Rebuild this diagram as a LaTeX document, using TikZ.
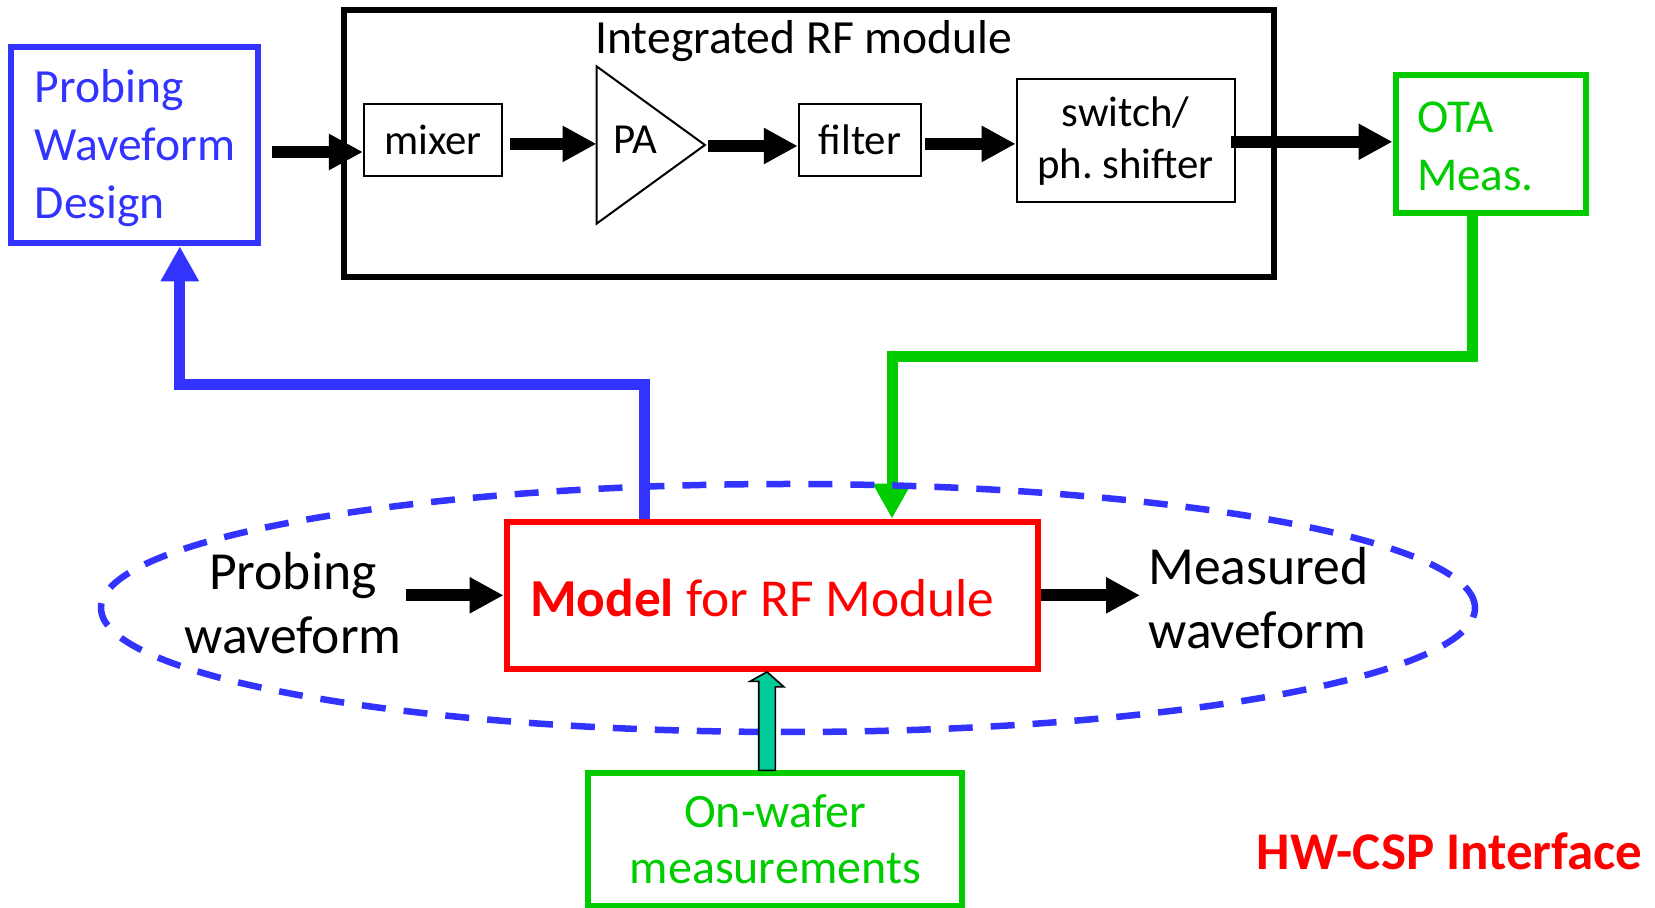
\documentclass[tikz,border=0pt]{standalone}
\usepackage{fontspec}
\setmainfont{Carlito}
\usepackage{xcolor}
\usetikzlibrary{arrows.meta,calc}
\definecolor{fbblue}{RGB}{51,51,255}
\definecolor{fbgreen}{RGB}{0,204,0}
\definecolor{mdred}{RGB}{255,0,0}
\definecolor{wafteal}{RGB}{0,204,153}
\frenchspacing

\begin{document}
\begin{tikzpicture}[x=0.5pt,y=-0.5pt,line join=miter,
    every node/.style={execute at begin node={\spaceskip=0pt\xspaceskip=0pt\relax}},
    blk node/.style={draw,line width=1pt,inner sep=0pt,font=\fontsize{21.4}{26}\selectfont},
    big node/.style={draw,line width=3pt,inner sep=0pt},
    sig/.style={line width=6pt,-{Triangle[length=17pt,width=17pt]}},
    fb/.style={line width=5.5pt,-{Triangle[length=17.5pt,width=18pt]}}]
    \useasboundingbox (0,0) rectangle (1655,908);

    % upper row
    \node[big node,draw=fbblue,text=fbblue,minimum width=123.2pt,minimum height=98.3pt,inner xsep=11.8pt,text width=99.6pt,text height=19.5pt,align=left,font=\fontsize{23.8}{29}\selectfont] (design) at (134.4,145) {Probing\\Waveform\\Design};
    \node[big node,minimum width=465pt,minimum height=133.35pt] (rfmod) at (808.7,143.35) {};
    \node[anchor=base,inner sep=0pt,font=\fontsize{23.8}{28}\selectfont] (rftitle) at (804,53.3) {Integrated RF module};
    \node[blk node,minimum width=69.1pt,minimum height=35.85pt] (mixer) at (433,139.9) {mixer};
    \node[inner sep=0pt,inner xsep=8.45pt,minimum width=53.8pt,minimum height=78.3pt,text width=36.9pt,text height=13pt,text depth=4.7pt,align=left,font=\fontsize{21.4}{26}\selectfont] (pa) at (650.7,145) {PA};
    \draw[line width=1pt] (pa.north west) -- (pa.east) -- (pa.south west) -- cycle;
    \node[blk node,minimum width=61.15pt,minimum height=35.85pt] (filter) at (859.9,139.9) {filter};
    \node[blk node,minimum width=108.95pt,minimum height=61.5pt,align=center] (switch) at (1125.6,140.8) {switch/\\ph. shifter};
    \node[big node,draw=fbgreen,text=fbgreen,minimum width=95.25pt,minimum height=69.15pt,inner xsep=10.75pt,text width=73.75pt,text height=17.5pt,align=left,font=\fontsize{23.6}{28.8}\selectfont] (ota) at (1490.75,144.15) {OTA\\Meas.};

    \draw[sig] ($(design.east)+(11,7)$) coordinate (a1) -- (a1 -| mixer.west);
    \draw[sig] ($(mixer.east)+(7,4)$) coordinate (a2) -- (a2 -| pa.west);
    \draw[sig] ($(pa.east)+(3,1)$) coordinate (a3) -- (a3 -| filter.west);
    \draw[sig] ($(filter.east)+(3,4)$) coordinate (a4) -- (a4 -| switch.west);
    \draw[sig] ($(switch.east)+(-5,1)$) coordinate (a5) -- (a5 -| ota.west);

    % lower row
    \node[big node,draw=mdred,text=mdred,minimum width=265.7pt,minimum height=73.65pt,inner xsep=11.7pt,text width=242.3pt,text height=21.4pt,text depth=0pt,align=left,font=\fontsize{26.7}{31}\selectfont] (model) at (772.3,595.3) {\textbf{Model} for RF Module};
    \node[inner sep=2pt,align=center,font=\fontsize{26.8}{32}\selectfont] (probe) at (293,603) {Probing\\waveform};
    \node[anchor=west,inner sep=4pt,align=left,font=\fontsize{26.8}{32}\selectfont] (meas) at (1140,598) {Measured\\waveform};
    \node[big node,draw=fbgreen,text=fbgreen,minimum width=187pt,minimum height=66.35pt,align=center,font=\fontsize{24}{28}\selectfont] (wafer) at (775.3,839.7) {On-wafer\\measurements};

    \draw[sig] (probe.east |- model.west) -- (model.west);
    \draw[sig] (model.east) -- (model.east -| meas.west);

    % feedback paths
    \draw[fb,fbblue] ($(model.north)+(-128.3,0)$) -- ++(0,-133.7) -| ($(design.south)+(45.4,0)$);
    \draw[fb,fbgreen] ($(ota.south)+(-17.8,0)$) |- ($(model.north)+(119.7,-162.1)$) -- ($(model.north)+(119.7,0)$);

    \draw[fbblue,line width=3.25pt,dash pattern=on 12pt off 9pt] (788,608) ellipse [x radius=343.5pt,y radius=62pt];

    \draw[line width=0.8pt,fill=wafteal] ($(wafer.north)+(-16.6,0)$) -- ++(0,-89) -- ++(-8.7,0) -- ($(model.south)+(-5.3,0)$) -- ++(17,15) -- ++(-8.7,0) -- (wafer.north) -- cycle;

    \node[anchor=base,inner sep=0pt,text=mdred,font=\fontsize{26.5}{32}\selectfont\bfseries] (hwcsp) at (1449.7,869.3) {HW-CSP Interface};
\end{tikzpicture}
\end{document}
